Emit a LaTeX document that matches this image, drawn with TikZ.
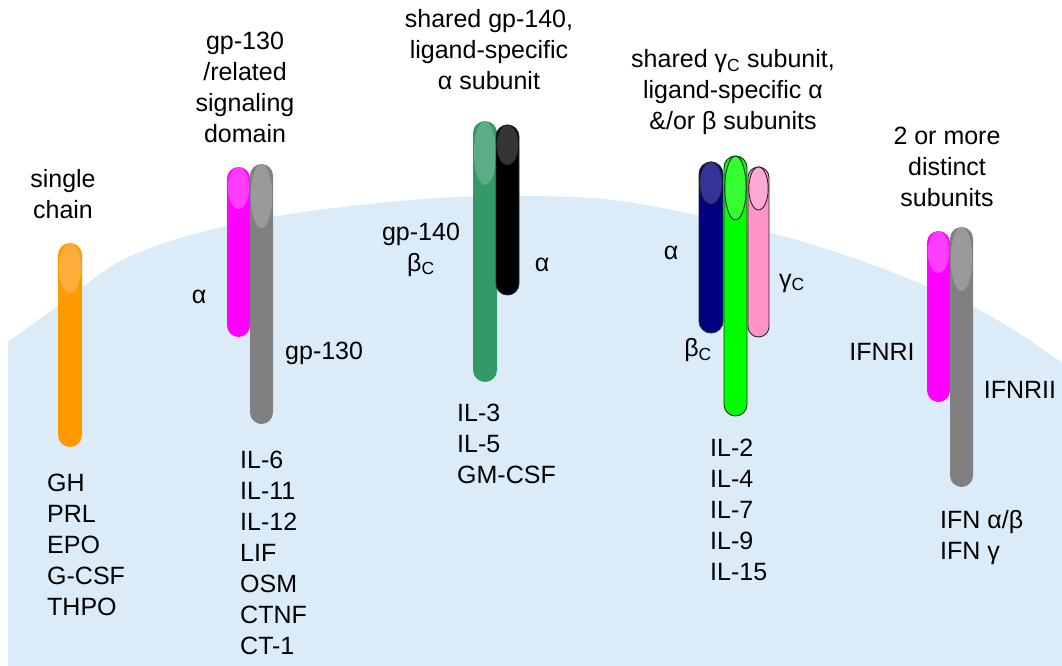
\documentclass[tikz,border=0pt]{standalone}
\usepackage{fontspec}
\setmainfont{Liberation Sans}

\definecolor{cellblue}{HTML}{DCEBF8}
\definecolor{orangeR}{HTML}{FF9900}
\definecolor{orangeL}{HTML}{FFAD3A}
\definecolor{magR}{HTML}{FF00FF}
\definecolor{magL}{HTML}{FF3CFF}
\definecolor{greyR}{HTML}{808080}
\definecolor{greyL}{HTML}{9A9A9A}
\definecolor{seaR}{HTML}{339966}
\definecolor{seaL}{HTML}{5CAD85}
\definecolor{blackL}{HTML}{353535}
\definecolor{navyR}{HTML}{000080}
\definecolor{navyL}{HTML}{333399}
\definecolor{limeR}{HTML}{00FF00}
\definecolor{limeL}{HTML}{33FF33}
\definecolor{pinkR}{HTML}{FF94C8}
\definecolor{pinkL}{HTML}{FFAAD4}

\newcommand{\sC}{\textsubscript{C}}
% [extra]{cx}{top}{bottom}{half width}{cap depth}{body}{cap}
\newcommand{\subunit}[8][]{%
  \path[fill=#7,rounded corners=#5pt,#1] ({#2-#5},#3) rectangle ({#2+#5},#4);
  \path[fill=#8,#1] (#2,{#3+#6}) ellipse [x radius={#5-0.8}, y radius=#6];
}

\begin{document}
\begin{tikzpicture}[x=1pt,y=-1pt,
  every node/.style={font=\fontsize{25}{31}\selectfont,inner sep=0pt},
  outl/.style={draw=black!85,line width=0.9pt}]

\useasboundingbox (0,0) rectangle (1062,666);

% cell surface
\fill[cellblue] (8,666) -- plot[smooth,tension=0.6] coordinates
  {(8,342) (58,306) (133,255) (250,221) (400,201) (520,196) (640,204)
   (820,247) (973,307) (1062,363)} -- (1062,666) -- cycle;

% single chain
\subunit{70}{243}{447}{12}{25}{orangeR}{orangeL}
\node (t1) at (63,194) [align=center] {single\\chain};
\node (l1) at (47,544.5) [anchor=west,align=left] {GH\\PRL\\EPO\\G-CSF\\THPO};

% gp-130 family
\subunit{238.5}{167}{337}{11.5}{21}{magR}{magL}
\subunit{261.5}{164}{424}{11.5}{32}{greyR}{greyL}
\node (t2) at (245,87) [align=center] {gp-130\\/related\\signaling\\domain};
\node (a2) at (199,297) {α};
\node (g130) at (285,353) [anchor=west] {gp-130};
\node (l2) at (240,552.5) [anchor=west,align=left] {IL-6\\IL-11\\IL-12\\LIF\\OSM\\CTNF\\CT-1};

% gp-140 family
\subunit{485}{121}{382}{12}{32}{seaR}{seaL}
\subunit[outl]{507.5}{125}{295}{11.5}{20}{black}{blackL}
\node (t3) at (489,50) [align=center] {shared gp-140,\\ligand-specific\\α subunit};
\node (g140) at (421,249.5) [align=center] {gp-140\\β\sC};
\node (a3) at (542,265) {α};
\node (l3) at (457,444) [anchor=west,align=left] {IL-3\\IL-5\\GM-CSF};

% common gamma chain family
\subunit[outl]{711}{162}{333}{12}{21}{navyR}{navyL}
\subunit[outl]{735.5}{156}{416}{11.5}{32}{limeR}{limeL}
\subunit[outl]{758.5}{167}{337}{10.5}{21.5}{pinkR}{pinkL}
\node (t4) at (733,92) [align=center] {shared γ\sC\ subunit,\\ligand-specific α\\\&/or β subunits};
\node (a4) at (671,253) {α};
\node (gc) at (779,283) [anchor=west] {γ\sC};
\node (bc) at (698,350) {β\sC};
\node (l4) at (710,509.5) [anchor=west,align=left] {IL-2\\IL-4\\IL-7\\IL-9\\IL-15};

% interferon receptors
\subunit{938.5}{231}{402}{11.5}{21}{magR}{magL}
\subunit{961.5}{227}{487}{11.5}{32}{greyR}{greyL}
\node (t5) at (947,167) [align=center] {2 or more\\distinct\\subunits};
\node (ifn1) at (882,352) {IFNRI};
\node (ifn2) at (1020,390) {IFNRII};
\node (l5) at (940,537.5) [anchor=west,align=left] {IFN α/β\\IFN γ};

\end{tikzpicture}
\end{document}
